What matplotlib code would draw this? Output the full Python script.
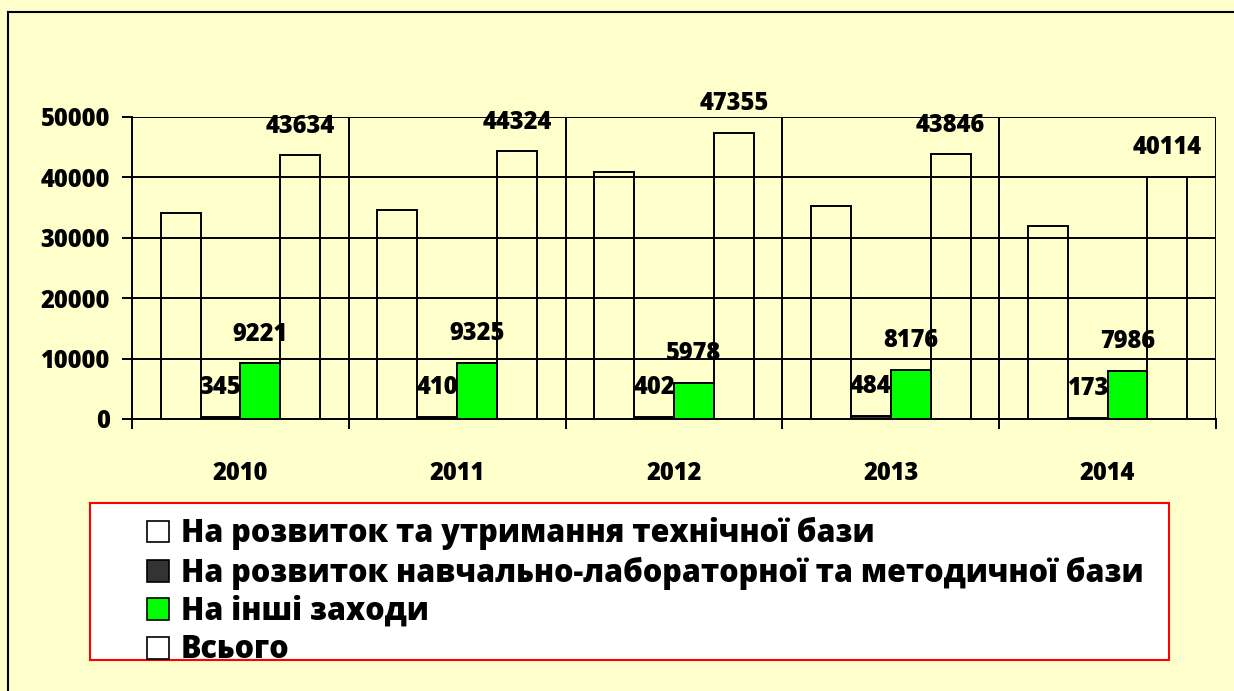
import matplotlib.pyplot as plt
import numpy as np
from matplotlib.patches import Rectangle, Patch
from matplotlib.lines import Line2D

years = ['2010', '2011', '2012', '2013', '2014']
tech_base = [34068, 34589, 40975, 35186, 31955]
lab_base = [345, 410, 402, 484, 173]
other = [9221, 9325, 5978, 8176, 7986]
total = [43634, 44324, 47355, 43846, 40114]

series_names = [
    'На розвиток та утримання технічної бази',
    'На розвиток навчально-лабораторної та методичної бази',
    'На інші заходи',
    'Всього',
]

plt.rcParams['font.family'] = ['Open Sans', 'DejaVu Sans']
plt.rcParams['font.weight'] = 'heavy'

bg = '#FFFFCC'
fig = plt.figure(figsize=(12.34, 6.91), dpi=100, facecolor=bg)
ax = fig.add_axes([132 / 1234, 1 - 419 / 691, (1216 - 132) / 1234, (419 - 117) / 691])
ax.set_facecolor(bg)

x = np.arange(len(years))
w = 0.184
lw = 1.4
fs = 17
series = [
    (tech_base, 'none', False),
    (lab_base, '#333333', True),
    (other, '#00FF00', True),
    (total, 'none', True),
]
for i, (vals, color, labelled) in enumerate(series):
    pos = x + (i - 1.5) * w
    bars = ax.bar(pos, vals, w, color=color, edgecolor='black', linewidth=lw, zorder=3)
    if labelled:
        for b, v in zip(bars, vals):
            ax.annotate(f'{v}', (b.get_x() + b.get_width() / 2, v),
                        xytext=(0, 21), textcoords='offset points',
                        ha='center', va='center', fontsize=fs, fontweight='heavy', zorder=5)

ax.set_xlim(-0.5, len(years) - 0.5)
ax.set_ylim(0, 50000)
ax.set_yticks(np.arange(0, 50001, 10000))
ax.yaxis.grid(True, color='black', linewidth=lw, zorder=1)
ax.set_axisbelow(True)

# category separators
ax.set_xticks(np.arange(-0.5, len(years), 1.0))
ax.set_xticklabels([])
ax.set_xticks(x, minor=True)
ax.set_xticklabels(years, minor=True)
ax.xaxis.grid(True, which='major', color='black', linewidth=lw)
ax.tick_params(axis='x', which='minor', length=0, pad=30, labelsize=fs)
ax.tick_params(axis='x', which='major', length=7, width=lw, direction='out')
ax.tick_params(axis='y', length=7, width=lw, direction='out', labelsize=fs, pad=9)
for lbl in ax.get_xticklabels(minor=True) + ax.get_yticklabels():
    lbl.set_fontweight('heavy')

for side in ['top', 'right']:
    ax.spines[side].set_visible(False)
for side in ['left', 'bottom']:
    ax.spines[side].set_linewidth(lw)

# outer frame (left and top edges)
fig.add_artist(Line2D([8 / 1234, 8 / 1234], [0, 1 - 12 / 691], color='black', linewidth=1.5,
                      transform=fig.transFigure))
fig.add_artist(Line2D([8 / 1234, 1], [1 - 12 / 691, 1 - 12 / 691], color='black', linewidth=1.5,
                      transform=fig.transFigure))

# legend box
fig.add_artist(Rectangle((90 / 1234, 1 - 660 / 691), (1169 - 90) / 1234, (660 - 503) / 691,
                         transform=fig.transFigure, facecolor='white', edgecolor='red',
                         linewidth=1.5, zorder=0))
handles = [Patch(facecolor=c, edgecolor='black', linewidth=1.2)
           for c in ['white', '#333333', '#00FF00', 'white']]
fig.legend(handles, series_names, loc='upper left',
           bbox_to_anchor=(147 / 1234, 1 - 517 / 691), frameon=False,
           prop={'size': 22, 'weight': 'heavy'}, handlelength=0.72, handleheight=0.72,
           handletextpad=0.38, labelspacing=0.21, borderpad=0, borderaxespad=0)

fig.savefig('out.png', dpi=100, facecolor=bg)
